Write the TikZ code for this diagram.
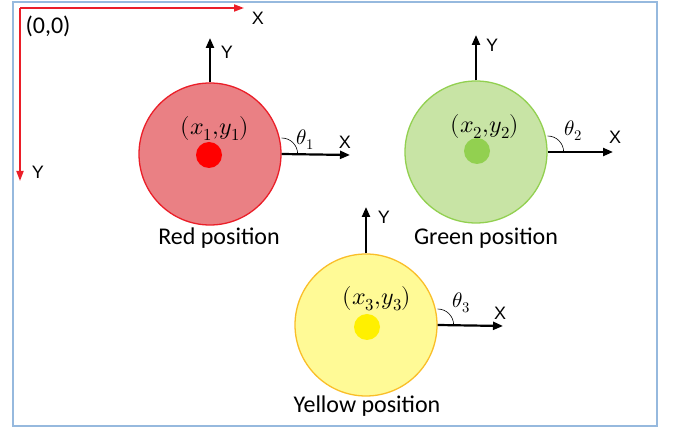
\documentclass[tikz,border=0pt]{standalone}
\usepackage{fontspec}
\usepackage{unicode-math}
\setmainfont{Carlito}
\setmathfont{Latin Modern Math}
\newfontfamily\arialf{Liberation Sans}
\usetikzlibrary{arrows.meta}
\definecolor{frameblue}{RGB}{150,185,222}
\definecolor{redfill}{RGB}{234,128,132}
\definecolor{rededge}{RGB}{235,30,40}
\definecolor{greenfill}{RGB}{200,228,165}
\definecolor{greenedge}{RGB}{146,208,80}
\definecolor{yellowfill}{RGB}{255,250,150}
\definecolor{yellowedge}{RGB}{250,190,40}
\definecolor{yellowdot}{RGB}{255,240,0}
\begin{document}
\begin{tikzpicture}[x=1pt,y=1pt,
  bigdisc/.style={circle,minimum size=142pt,inner sep=0pt,line width=1.3pt},
  dotdisc/.style={circle,minimum size=26pt,inner sep=0pt,draw=none},
  axarrow/.style={line width=2.2pt,-{Triangle[length=10pt,width=8pt]}},
  redarrow/.style={line width=1.8pt,rededge,-{Triangle[length=10pt,width=7pt]}},
  axlabel/.style={font=\arialf\fontsize{18}{20}\selectfont,inner sep=0pt},
  txt/.style={font=\fontsize{24}{26}\selectfont,inner sep=0pt},
  mlabel/.style={font=\fontsize{24}{26}\selectfont,inner sep=0pt},
  thlabel/.style={font=\fontsize{21}{24}\selectfont,inner sep=0pt},
  anglearc/.style={line width=0.6pt}]
\useasboundingbox (0,0) rectangle (673,-427);
\draw[frameblue,line width=1.5pt] (13,-2) rectangle (657,-426);

% global frame
\coordinate (O) at (20,-8);
\coordinate (OX) at (244,-8);
\coordinate (OY) at (20,-181);
\draw[redarrow] (O) -- (OX);
\draw[redarrow] (O) -- (OY);
\node[axlabel] (gx) at (258,-18) {X};
\node[axlabel] (gy) at (38,-172) {Y};
\node[txt] (orig) at (48,-26) {(0,0)};

% red
\node[bigdisc,draw=rededge,fill=redfill] (c1) at (210,-154) {};
\node[dotdisc,fill=red] (d1) at (209,-155) {};
\node[mlabel] (l1) at (215,-129) {$(x_1{,}y_1)$};
\coordinate (c1y) at (210,-38);
\coordinate (c1x) at (350,-155);
\draw[axarrow] (c1.north) -- (c1y);
\draw[axarrow] (c1.east) -- (c1x);
\node[axlabel] (c1yl) at (227,-52) {Y};
\node[axlabel] (c1xl) at (345,-142) {X};
\draw[anglearc] (c1.east) ++(0,16) arc[start angle=90,end angle=0,radius=16];
\node[thlabel] (t1) at (305,-140) {$\theta_1$};
\node[txt,anchor=base] (n1) at (219,-245) {Red position};

% green
\node[bigdisc,draw=greenedge,fill=greenfill] (c2) at (476,-152) {};
\node[dotdisc,fill=greenedge] (d2) at (477,-151) {};
\node[mlabel] (l2) at (485,-127) {$(x_2{,}y_2)$};
\coordinate (c2y) at (476,-35);
\coordinate (c2x) at (613,-152);
\draw[axarrow] (c2.north) -- (c2y);
\draw[axarrow] (c2.east) -- (c2x);
\node[axlabel] (c2yl) at (492,-45) {Y};
\node[axlabel] (c2xl) at (615,-137) {X};
\draw[anglearc] (c2.east) ++(0,16) arc[start angle=90,end angle=0,radius=16];
\node[thlabel] (t2) at (573,-131) {$\theta_2$};
\node[txt,anchor=base] (n2) at (486,-245) {Green position};

% yellow
\node[bigdisc,draw=yellowedge,fill=yellowfill] (c3) at (366,-325) {};
\node[dotdisc,fill=yellowdot] (d3) at (367,-327) {};
\node[mlabel] (l3) at (377,-299) {$(x_3{,}y_3)$};
\coordinate (c3y) at (366,-207);
\coordinate (c3x) at (503,-326);
\draw[axarrow] (c3.east) -- (c3x);
\draw[axarrow] (c3.north) -- (c3y);
\node[axlabel] (c3yl) at (384,-217) {Y};
\node[axlabel] (c3xl) at (500,-313) {X};
\draw[anglearc] (c3.east) ++(0,16) arc[start angle=90,end angle=0,radius=16];
\node[thlabel] (t3) at (461,-303) {$\theta_3$};
\node[txt,anchor=base] (n3) at (367,-413) {Yellow position};
\end{tikzpicture}
\end{document}
